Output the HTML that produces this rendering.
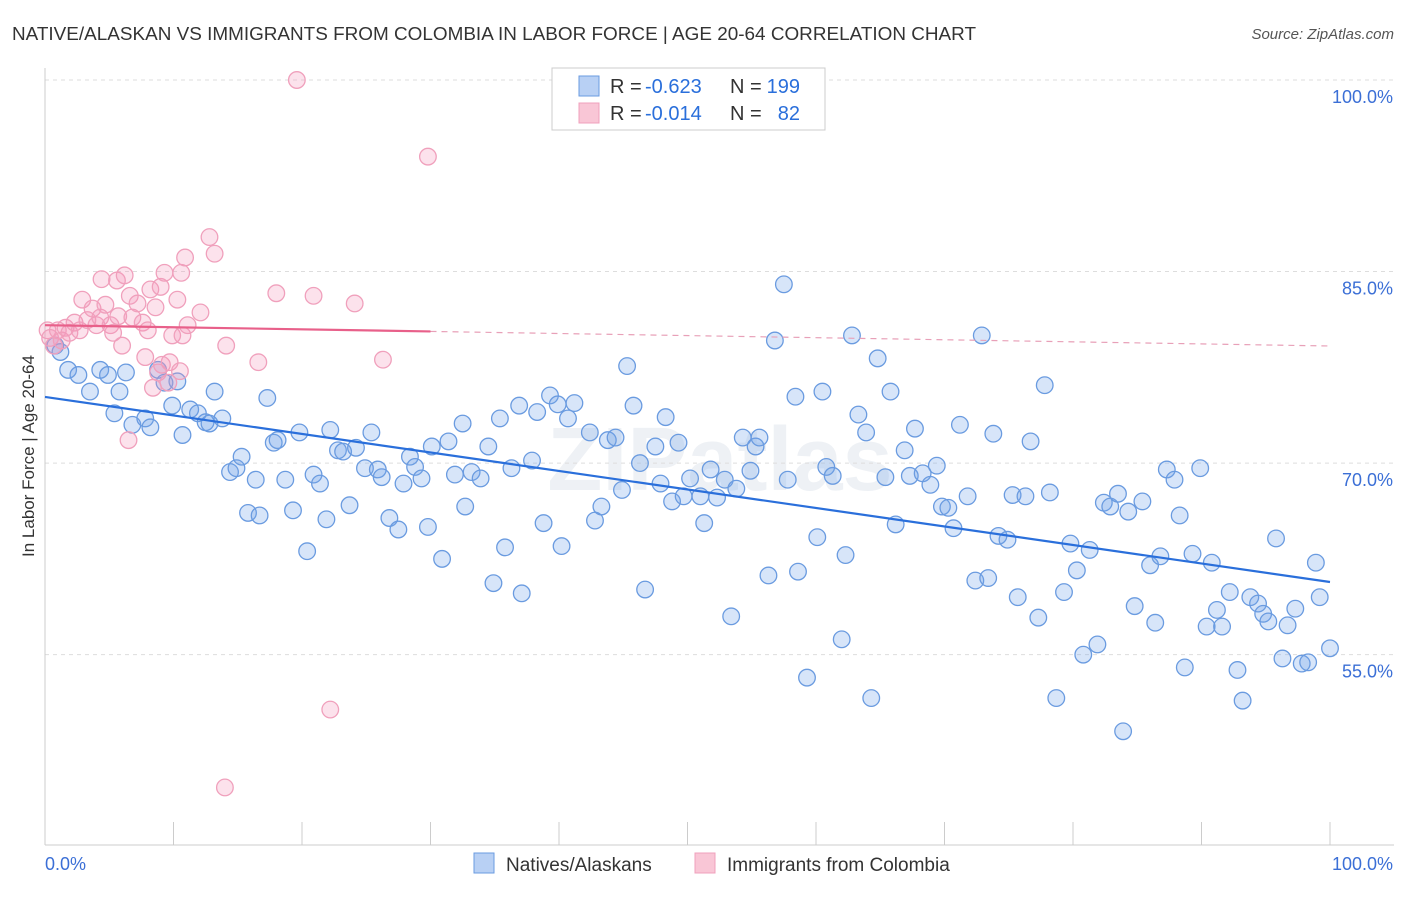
<!DOCTYPE html>
<html><head><meta charset="utf-8">
<style>
body{margin:0;background:#fff;font-family:"Liberation Sans",sans-serif;}
svg text{font-family:"Liberation Sans",sans-serif;}
</style></head>
<body>
<svg id="chart" width="1406" height="892" xmlns="http://www.w3.org/2000/svg">
<text x="12" y="40" font-size="18" fill="#333" textLength="964" lengthAdjust="spacingAndGlyphs">NATIVE/ALASKAN VS IMMIGRANTS FROM COLOMBIA IN LABOR FORCE | AGE 20-64 CORRELATION CHART</text>
<text x="1394" y="39" font-size="15" fill="#555" font-style="italic" text-anchor="end">Source: ZipAtlas.com</text>
<text transform="translate(34,456) rotate(-90)" font-size="17" fill="#333" text-anchor="middle">In Labor Force | Age 20-64</text>
<text x="720" y="490" font-size="90" fill="#eef1f5" text-anchor="middle" font-weight="bold">ZIPatlas</text>
<g id="grid"></g>
<g id="pts"></g>
<g id="lines"></g>
<g>
<rect x="552" y="68" width="273" height="62" fill="#fff" stroke="#ccc"/>
<rect x="579" y="76" width="20" height="20" fill="#b8d0f4" stroke="#6a9be0"/>
<rect x="579" y="103" width="20" height="20" fill="#f9c6d6" stroke="#f0a0bc"/>
<text x="610" y="93" font-size="20" fill="#333">R =</text>
<text x="645" y="93" font-size="20" fill="#2a6fdb">-0.623</text>
<text x="730" y="93" font-size="20" fill="#333">N =</text>
<text x="800" y="93" font-size="20" fill="#2a6fdb" text-anchor="end">199</text>
<text x="610" y="120" font-size="20" fill="#333">R =</text>
<text x="645" y="120" font-size="20" fill="#2a6fdb">-0.014</text>
<text x="730" y="120" font-size="20" fill="#333">N =</text>
<text x="800" y="120" font-size="20" fill="#2a6fdb" text-anchor="end">82</text>
</g>
<g>
<rect x="474" y="853" width="20" height="20" fill="#b8d0f4" stroke="#6a9be0"/>
<text x="506" y="871" font-size="19" fill="#333">Natives/Alaskans</text>
<rect x="695" y="853" width="20" height="20" fill="#f9c6d6" stroke="#f0a0bc"/>
<text x="727" y="871" font-size="19" fill="#333">Immigrants from Colombia</text>
</g>
</svg>
<script>
const blueX=[0.8,1.2,1.8,2.6,3.5,4.3,4.9,5.4,5.8,6.3,6.8,7.8,8.2,8.8,9.3,9.9,10.3,10.7,11.3,11.9,12.5,12.8,13.2,13.8,14.4,14.9,15.3,15.8,16.4,16.7,17.3,17.8,18.1,18.7,19.3,19.8,20.4,20.9,21.4,21.9,22.2,22.8,23.2,23.7,24.2,24.9,25.4,25.9,26.2,26.8,27.5,27.9,28.4,28.8,29.3,29.8,30.1,30.9,31.4,31.9,32.5,32.7,33.2,33.9,34.5,34.9,35.4,35.8,36.3,36.9,37.1,37.9,38.3,38.8,39.3,39.9,40.2,40.7,41.2,42.4,42.8,43.3,43.8,44.4,44.9,45.3,45.8,46.3,46.7,47.5,47.9,48.3,48.8,49.3,49.7,50.2,51.0,51.3,51.8,52.3,52.9,53.4,53.8,54.3,54.9,55.3,55.6,56.3,56.8,57.5,57.8,58.4,58.6,59.3,60.1,60.5,60.8,61.3,62.0,62.3,62.8,63.3,63.9,64.3,64.8,65.4,65.8,66.2,66.9,67.3,67.7,68.3,68.9,69.4,69.8,70.3,70.7,71.2,71.8,72.4,72.9,73.4,73.8,74.2,74.9,75.3,75.7,76.3,76.7,77.3,77.8,78.2,78.7,79.3,79.8,80.3,80.8,81.3,81.9,82.4,82.9,83.5,83.9,84.3,84.8,85.4,86.0,86.4,86.8,87.3,87.9,88.3,88.7,89.3,89.9,90.4,90.8,91.2,91.6,92.2,92.8,93.2,93.8,94.4,94.8,95.2,95.8,96.3,96.7,97.3,97.8,98.3,98.9,99.2,100];
const blueY=[79.2,78.7,77.3,76.9,75.6,77.3,76.9,73.9,75.6,77.1,73.0,73.5,72.8,77.3,76.3,74.5,76.4,72.2,74.2,73.9,73.2,73.1,75.6,73.5,69.3,69.6,70.5,66.1,68.7,65.9,75.1,71.6,71.8,68.7,66.3,72.4,63.1,69.1,68.4,65.6,72.6,71.0,70.9,66.7,71.2,69.6,72.4,69.5,68.9,65.7,64.8,68.4,70.5,69.7,68.8,65.0,71.3,62.5,71.7,69.1,73.1,66.6,69.3,68.8,71.3,60.6,73.5,63.4,69.6,74.5,59.8,70.2,74.0,65.3,75.3,74.6,63.5,73.5,74.7,72.4,65.5,66.6,71.8,72.0,67.9,77.6,74.5,70.0,60.1,71.3,68.4,73.6,67.0,71.6,67.4,68.8,67.4,65.3,69.5,67.3,68.7,58.0,68.0,72.0,69.4,71.3,72.0,61.2,79.6,84.0,68.7,75.2,61.5,53.2,64.2,75.6,69.7,69.0,56.2,62.8,80.0,73.8,72.4,51.6,78.2,68.9,75.6,65.2,71.0,69.0,72.7,69.2,68.3,69.8,66.6,66.5,64.9,73.0,67.4,60.8,80.0,61.0,72.3,64.3,64.0,67.5,59.5,67.4,71.7,57.9,76.1,67.7,51.6,59.9,63.7,61.6,55.0,63.2,55.8,66.9,66.6,67.6,49.0,66.2,58.8,67.0,62.0,57.5,62.7,69.5,68.7,65.9,54.0,62.9,69.6,57.2,62.2,58.5,57.2,59.9,53.8,51.4,59.5,59.0,58.2,57.6,64.1,54.7,57.3,58.6,54.3,54.4,62.2,59.5,55.5];
const pinkX=[0.2,0.4,0.7,1.0,1.3,1.6,1.9,2.3,2.7,2.9,3.3,3.7,4.0,4.3,4.4,4.7,5.1,5.3,5.6,5.7,6.0,6.2,6.5,6.6,6.8,7.2,7.6,7.8,8.0,8.2,8.4,8.6,8.8,9.0,9.1,9.3,9.6,9.9,9.7,10.3,10.5,10.6,10.7,10.9,11.1,12.1,12.8,13.2,14.0,14.1,16.6,18.0,19.6,20.9,22.2,24.1,26.3,29.8];
const pinkY=[80.4,79.8,79.2,80.4,79.6,80.6,80.2,81.0,80.4,82.8,81.2,82.1,80.8,81.4,84.4,82.4,80.8,80.2,84.3,81.5,79.2,84.7,71.8,83.1,81.4,82.5,81.0,78.3,80.4,83.6,75.9,82.2,77.1,83.8,77.7,84.9,76.3,80.0,77.9,82.8,77.2,84.9,80.0,86.1,80.8,81.8,87.7,86.4,44.6,79.2,77.9,83.3,100.0,83.1,50.7,82.5,78.1,94.0];
const yTicks=[100,85,70,55];
const yTickLabels=["100.0%","85.0%","70.0%","55.0%"];
const blueTrend=[75.18,60.69];
const pinkTrend=[80.8,79.17];
const pinkSolidEnd=30;

const NS="http://www.w3.org/2000/svg";
const X=v=>45+v*12.85;
const Y=v=>80+(100-v)*12.77;
function mk(tag,attrs,parent){const e=document.createElementNS(NS,tag);for(const k in attrs)e.setAttribute(k,attrs[k]);parent.appendChild(e);return e;}
const grid=document.getElementById('grid');
yTicks.forEach((t,i)=>{
  const l=mk('line',{x1:45,x2:1394,y1:Y(t),y2:Y(t),stroke:'#ddd','stroke-dasharray':'4,4'},grid);
  
  
  const tx=mk('text',{x:1393,y:Y(t)+23,'font-size':18,fill:'#3b6fd6','text-anchor':'end'},grid);
  tx.textContent=yTickLabels[i];
  
  
});
const ax=mk('line',{x1:45,x2:45,y1:68,y2:845,stroke:'#ccc'},grid);


const bx=mk('line',{x1:45,x2:1394,y1:845,y2:845,stroke:'#ccc'},grid);


for(let i=0;i<=10;i++){
  const tk=mk('line',{x1:X(i*10),x2:X(i*10),y1:822,y2:845,stroke:'#ccc'},grid);
  
  
}
const xl0=mk('text',{x:45,y:870,'font-size':18,fill:'#3b6fd6'},grid);xl0.textContent='0.0%';


const xl1=mk('text',{x:1393,y:870,'font-size':18,fill:'#3b6fd6','text-anchor':'end'},grid);xl1.textContent='100.0%';


const pts=document.getElementById('pts');
blueX.forEach((x,i)=>{
  const c=mk('circle',{cx:X(x),cy:Y(blueY[i]),r:8.3,fill:'rgba(110,160,235,0.28)',stroke:'#6a9be0','stroke-width':1.3},pts);
  
  
});
pinkX.forEach((x,i)=>{
  const c=mk('circle',{cx:X(x),cy:Y(pinkY[i]),r:8.3,fill:'rgba(245,150,185,0.28)',stroke:'#f0a0bc','stroke-width':1.3},pts);
  
  
});
const lines=document.getElementById('lines');
const bl=mk('line',{x1:X(0),y1:Y(blueTrend[0]),x2:X(100),y2:Y(blueTrend[1]),stroke:'#2a6fdb','stroke-width':2.2},lines);


const pm=pinkTrend[0]+(pinkTrend[1]-pinkTrend[0])*pinkSolidEnd/100;
const pl=mk('line',{x1:X(0),y1:Y(pinkTrend[0]),x2:X(pinkSolidEnd),y2:Y(pm),stroke:'#e8608a','stroke-width':2.2},lines);


const pd=mk('line',{x1:X(pinkSolidEnd),y1:Y(pm),x2:X(100),y2:Y(pinkTrend[1]),stroke:'#e8a0b8','stroke-width':1.2,'stroke-dasharray':'6,5'},lines);


</script>
</body></html>
